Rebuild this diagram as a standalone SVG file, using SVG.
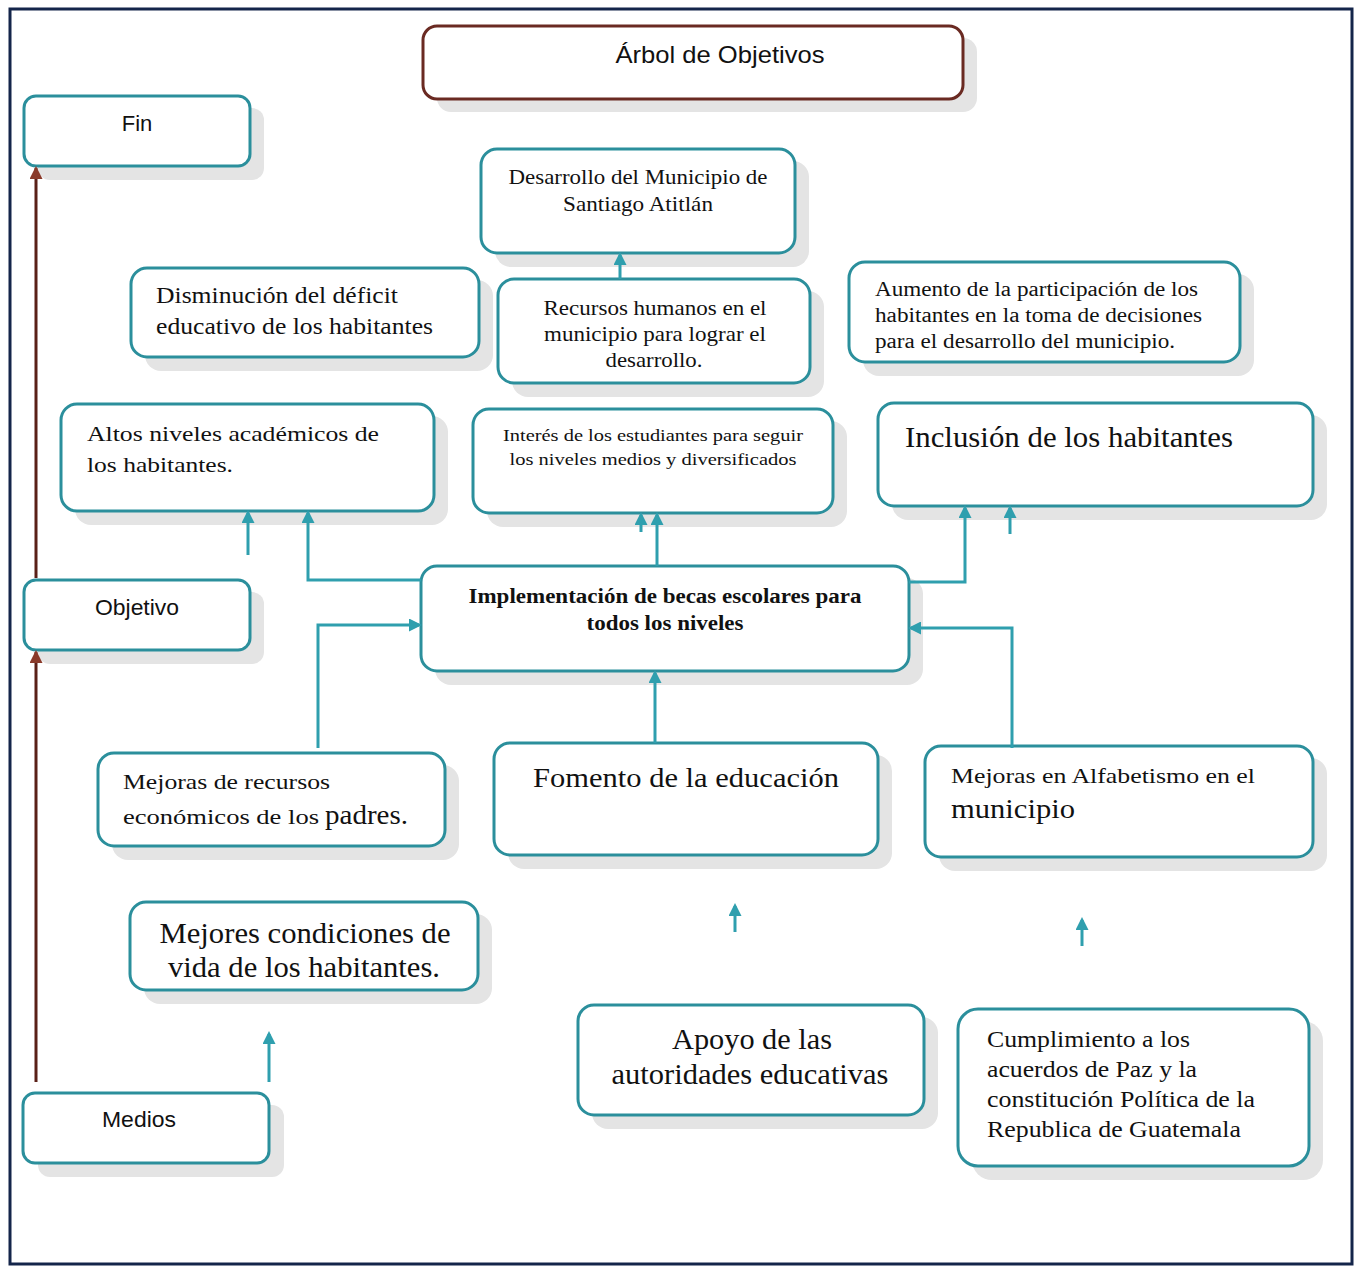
<svg xmlns="http://www.w3.org/2000/svg" width="1361" height="1268" viewBox="0 0 1361 1268">
<defs>
<style>
.box{fill:#fff;stroke:#2b8f9c;stroke-width:3}
.sh{fill:#e4e4e4}
.title{fill:#fff;stroke:#6a2a22;stroke-width:3}
.sans{font-family:"Liberation Sans",Arial,sans-serif;fill:#111}
.serif{font-family:"Liberation Serif","Times New Roman",serif;fill:#111}
.c{stroke:#2f9fae;stroke-width:3;fill:none}
.b{stroke:#5a2018;stroke-width:3;fill:none}
</style>
<marker id="ah2" markerWidth="13" markerHeight="13" refX="10" refY="6.5" orient="auto" markerUnits="userSpaceOnUse" viewBox="0 0 13 13"><path d="M0,0 L13,6.5 L0,13 z" fill="#2f9fae"/></marker>
<marker id="bh" markerWidth="13" markerHeight="13" refX="11" refY="6.5" orient="auto" markerUnits="userSpaceOnUse" viewBox="0 0 13 13"><path d="M0,0 L13,6.5 L0,13 z" fill="#8a3a2a"/></marker>
</defs>
<rect x="0" y="0" width="1361" height="1268" fill="#fff"/>
<rect x="10" y="9" width="1342" height="1255" fill="none" stroke="#14254a" stroke-width="3"/>

<g id="titulo">
<rect class="sh" x="437" y="38" width="540" height="74" rx="14"/>
<rect class="title" x="423" y="26" width="540" height="73" rx="14"/>
<text class="sans" x="720" y="63" font-size="24" text-anchor="middle" textLength="209" lengthAdjust="spacingAndGlyphs">Árbol de Objetivos</text>
</g>

<g id="fin">
<rect class="sh" x="38" y="108" width="226" height="72" rx="12"/>
<rect class="box" x="24" y="96" width="226" height="70" rx="12"/>
<text class="sans" x="137" y="131" font-size="22" text-anchor="middle">Fin</text>
</g>

<g id="objetivo">
<rect class="sh" x="38" y="592" width="226" height="72" rx="12"/>
<rect class="box" x="24" y="580" width="226" height="70" rx="12"/>
<text class="sans" x="137" y="615" font-size="22" text-anchor="middle" textLength="84" lengthAdjust="spacingAndGlyphs">Objetivo</text>
</g>

<g id="medios">
<rect class="sh" x="38" y="1105" width="246" height="72" rx="12"/>
<rect class="box" x="23" y="1093" width="246" height="70" rx="12"/>
<text class="sans" x="139" y="1127" font-size="22" text-anchor="middle" textLength="74" lengthAdjust="spacingAndGlyphs">Medios</text>
</g>

<g id="desarrollo">
<rect class="sh" x="495" y="161" width="314" height="106" rx="16"/>
<rect class="box" x="481" y="149" width="314" height="104" rx="16"/>
<text class="serif" font-size="21" text-anchor="middle"><tspan x="638" y="184" textLength="259" lengthAdjust="spacingAndGlyphs">Desarrollo del Municipio de</tspan><tspan x="638" y="211" textLength="150" lengthAdjust="spacingAndGlyphs">Santiago Atitlán</tspan></text>
</g>

<g id="recursos">
<rect class="sh" x="512" y="291" width="312" height="106" rx="16"/>
<rect class="box" x="498" y="279" width="312" height="104" rx="16"/>
<text class="serif" font-size="21" text-anchor="middle"><tspan x="655" y="315" textLength="223" lengthAdjust="spacingAndGlyphs">Recursos humanos en el</tspan><tspan x="655" y="341" textLength="222" lengthAdjust="spacingAndGlyphs">municipio para lograr el</tspan><tspan x="654" y="367" textLength="97" lengthAdjust="spacingAndGlyphs">desarrollo.</tspan></text>
</g>

<g id="disminucion">
<rect class="sh" x="145" y="280" width="348" height="91" rx="16"/>
<rect class="box" x="131" y="268" width="348" height="89" rx="16"/>
<text class="serif" font-size="23"><tspan x="156" y="303" textLength="242" lengthAdjust="spacingAndGlyphs">Disminución del déficit</tspan><tspan x="156" y="334" textLength="277" lengthAdjust="spacingAndGlyphs">educativo de los habitantes</tspan></text>
</g>

<g id="aumento">
<rect class="sh" x="863" y="274" width="391" height="102" rx="16"/>
<rect class="box" x="849" y="262" width="391" height="100" rx="16"/>
<text class="serif" font-size="20"><tspan x="875" y="296" textLength="323" lengthAdjust="spacingAndGlyphs">Aumento de la participación de los</tspan><tspan x="875" y="322" textLength="327" lengthAdjust="spacingAndGlyphs">habitantes en la toma de decisiones</tspan><tspan x="875" y="348" textLength="300" lengthAdjust="spacingAndGlyphs">para el desarrollo del municipio.</tspan></text>
</g>

<g id="altos">
<rect class="sh" x="75" y="416" width="373" height="109" rx="16"/>
<rect class="box" x="61" y="404" width="373" height="107" rx="16"/>
<text class="serif" font-size="22"><tspan x="87" y="441" textLength="292" lengthAdjust="spacingAndGlyphs">Altos niveles académicos de</tspan><tspan x="87" y="472" textLength="146" lengthAdjust="spacingAndGlyphs">los habitantes.</tspan></text>
</g>

<g id="interes">
<rect class="sh" x="487" y="421" width="360" height="106" rx="16"/>
<rect class="box" x="473" y="409" width="360" height="104" rx="16"/>
<text class="serif" font-size="17" text-anchor="middle"><tspan x="653" y="441" textLength="300" lengthAdjust="spacingAndGlyphs">Interés de los estudiantes para seguir</tspan><tspan x="653" y="465" textLength="287" lengthAdjust="spacingAndGlyphs">los niveles medios y diversificados</tspan></text>
</g>

<g id="inclusion">
<rect class="sh" x="892" y="415" width="435" height="105" rx="16"/>
<rect class="box" x="878" y="403" width="435" height="103" rx="16"/>
<text class="serif" font-size="29" x="905" y="447" textLength="328" lengthAdjust="spacingAndGlyphs">Inclusión de los habitantes</text>
</g>

<g id="implementacion">
<rect class="sh" x="435" y="578" width="488" height="107" rx="16"/>
<rect class="box" x="421" y="566" width="488" height="105" rx="16"/>
<text class="serif" font-size="20" font-weight="bold" text-anchor="middle"><tspan x="665" y="603" textLength="393" lengthAdjust="spacingAndGlyphs">Implementación de becas escolares para</tspan><tspan x="665" y="630" textLength="157" lengthAdjust="spacingAndGlyphs">todos los niveles</tspan></text>
</g>

<g id="mejoras-recursos">
<rect class="sh" x="112" y="765" width="347" height="95" rx="16"/>
<rect class="box" x="98" y="753" width="347" height="93" rx="16"/>
<text class="serif" font-size="22"><tspan x="123" y="789" textLength="207" lengthAdjust="spacingAndGlyphs">Mejoras de recursos</tspan><tspan x="123" y="824" textLength="196" lengthAdjust="spacingAndGlyphs">económicos de los</tspan><tspan x="325" y="824" font-size="27" textLength="83" lengthAdjust="spacingAndGlyphs">padres.</tspan></text>
</g>

<g id="fomento">
<rect class="sh" x="508" y="755" width="384" height="114" rx="16"/>
<rect class="box" x="494" y="743" width="384" height="112" rx="16"/>
<text class="serif" font-size="28" x="686" y="787" text-anchor="middle" textLength="306" lengthAdjust="spacingAndGlyphs">Fomento de la educación</text>
</g>

<g id="alfabetismo">
<rect class="sh" x="939" y="758" width="388" height="113" rx="16"/>
<rect class="box" x="925" y="746" width="388" height="111" rx="16"/>
<text class="serif"><tspan x="951" y="783" font-size="22" textLength="304" lengthAdjust="spacingAndGlyphs">Mejoras en Alfabetismo en el</tspan><tspan x="951" y="818" font-size="28" textLength="124" lengthAdjust="spacingAndGlyphs">municipio</tspan></text>
</g>

<g id="mejores">
<rect class="sh" x="144" y="914" width="348" height="90" rx="16"/>
<rect class="box" x="130" y="902" width="348" height="88" rx="16"/>
<text class="serif" font-size="29" text-anchor="middle"><tspan x="305" y="943" textLength="291" lengthAdjust="spacingAndGlyphs">Mejores condiciones de</tspan><tspan x="304" y="977" textLength="272" lengthAdjust="spacingAndGlyphs">vida de los habitantes.</tspan></text>
</g>

<g id="apoyo">
<rect class="sh" x="592" y="1017" width="346" height="112" rx="16"/>
<rect class="box" x="578" y="1005" width="346" height="110" rx="16"/>
<text class="serif" font-size="29" text-anchor="middle"><tspan x="752" y="1049" textLength="160" lengthAdjust="spacingAndGlyphs">Apoyo de las</tspan><tspan x="750" y="1084" textLength="277" lengthAdjust="spacingAndGlyphs">autoridades educativas</tspan></text>
</g>

<g id="cumplimiento">
<rect class="sh" x="972" y="1021" width="351" height="159" rx="20"/>
<rect class="box" x="958" y="1009" width="351" height="157" rx="20"/>
<text class="serif" font-size="24"><tspan x="987" y="1047" textLength="203" lengthAdjust="spacingAndGlyphs">Cumplimiento a los</tspan><tspan x="987" y="1077" textLength="210" lengthAdjust="spacingAndGlyphs">acuerdos de Paz y la</tspan><tspan x="987" y="1107" textLength="268" lengthAdjust="spacingAndGlyphs">constitución Política de la</tspan><tspan x="987" y="1137" textLength="254" lengthAdjust="spacingAndGlyphs">Republica de Guatemala</tspan></text>
</g>

<g id="connectors">
<path class="b" d="M36,1082 V652" marker-end="url(#bh)"/>
<path class="b" d="M36,578 V168" marker-end="url(#bh)"/>
<path class="c" d="M620,279 V255" marker-end="url(#ah2)"/>
<path class="c" d="M248,555 V513" marker-end="url(#ah2)"/>
<path class="c" d="M421,580 H308 V513" marker-end="url(#ah2)"/>
<path class="c" d="M318,748 V625 H419" marker-end="url(#ah2)"/>
<path class="c" d="M641,532 V515" marker-end="url(#ah2)"/>
<path class="c" d="M657,566 V515" marker-end="url(#ah2)"/>
<path class="c" d="M909,582 H965 V508" marker-end="url(#ah2)"/>
<path class="c" d="M1010,534 V508" marker-end="url(#ah2)"/>
<path class="c" d="M1012,748 V628 H911" marker-end="url(#ah2)"/>
<path class="c" d="M655,743 V673" marker-end="url(#ah2)"/>
<path class="c" d="M735,932 V906" marker-end="url(#ah2)"/>
<path class="c" d="M1082,946 V920" marker-end="url(#ah2)"/>
<path class="c" d="M269,1082 V1034" marker-end="url(#ah2)"/>
</g>
</svg>
